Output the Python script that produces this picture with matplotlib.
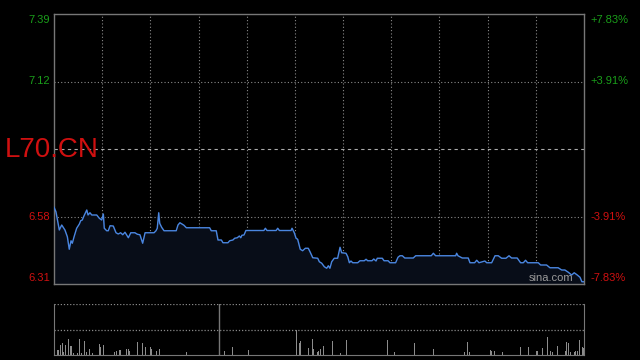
import matplotlib.pyplot as plt

# intraday minutes from open (session of 330 min) and price
minutes = [0, 1.2, 3.3, 4.8, 6.8, 8.3, 9.5, 10.6, 11.4, 12.5, 14.1, 15.8, 16.6, 17.6,
           18.7, 20.4, 21.2, 22.4, 23.5, 26.6, 28.2, 29.7, 30.7, 31.3, 32.8, 33.8,
           34.9, 36.9, 38.6, 40.0, 41.5, 42.8, 44.2, 46.3, 47.8, 50.4, 51.9, 53.5,
           55.2, 56.7, 59.8, 62.3, 63.5, 64.3, 65.2, 65.8, 67.0, 68.5, 76.1, 77.2,
           78.4, 79.7, 80.9, 82.4, 96.9, 97.9, 101.0, 102.1, 104.2, 105.2, 108.3,
           109.4, 111.4, 112.5, 114.1, 115.4, 116.3, 117.0, 118.3, 119.5, 130.7,
           131.6, 132.6, 138.3, 139.3, 140.3, 147.6, 148.2, 149.6, 150.7, 151.7,
           153.3, 154.8, 156.5, 158.3, 159.4, 161.1, 164.2, 165.2, 166.7, 168.3,
           169.8, 170.8, 171.8, 172.9, 174.5, 176.6, 178.1, 179.1, 181.8, 182.9,
           183.9, 184.9, 186.0, 189.1, 190.5, 193.2, 194.3, 195.3, 198.0, 199.1,
           200.5, 201.3, 204.4, 205.5, 208.0, 209.2, 212.7, 214.2, 215.4, 216.9,
           218.4, 223.7, 225.2, 234.9, 236.2, 237.6, 250.1, 250.7, 251.5, 254.2,
           257.9, 259.0, 261.9, 263.2, 264.6, 268.3, 269.4, 272.5, 274.6, 276.6,
           278.7, 281.4, 283.3, 284.9, 288.4, 290.5, 292.2, 293.6, 294.9, 301.5,
           303.0, 306.7, 308.8, 313.9, 316.1, 318.1, 320.2, 322.3, 323.9, 325.8,
           327.5, 328.7, 330]
price = [6.617, 6.599, 6.526, 6.546, 6.526, 6.499, 6.449, 6.483, 6.473, 6.499, 6.533,
         6.550, 6.563, 6.566, 6.583, 6.606, 6.586, 6.595, 6.586, 6.586, 6.573, 6.566,
         6.590, 6.533, 6.523, 6.523, 6.543, 6.542, 6.515, 6.510, 6.515, 6.507, 6.517,
         6.495, 6.515, 6.515, 6.509, 6.507, 6.473, 6.515, 6.515, 6.515, 6.523, 6.533,
         6.595, 6.553, 6.537, 6.523, 6.523, 6.546, 6.555, 6.550, 6.545, 6.535, 6.535,
         6.523, 6.523, 6.486, 6.486, 6.475, 6.475, 6.483, 6.486, 6.493, 6.495, 6.502,
         6.495, 6.505, 6.506, 6.524, 6.524, 6.533, 6.524, 6.524, 6.533, 6.524, 6.524,
         6.533, 6.515, 6.493, 6.489, 6.449, 6.443, 6.453, 6.453, 6.439, 6.415, 6.413,
         6.399, 6.393, 6.379, 6.373, 6.383, 6.373, 6.399, 6.413, 6.413, 6.457, 6.435,
         6.433, 6.419, 6.395, 6.402, 6.395, 6.395, 6.403, 6.403, 6.409, 6.403, 6.403,
         6.410, 6.402, 6.413, 6.413, 6.403, 6.403, 6.395, 6.395, 6.417, 6.423, 6.423,
         6.414, 6.414, 6.423, 6.423, 6.433, 6.423, 6.423, 6.433, 6.423, 6.414, 6.414,
         6.395, 6.395, 6.405, 6.395, 6.402, 6.395, 6.395, 6.423, 6.423, 6.413, 6.413,
         6.423, 6.414, 6.414, 6.395, 6.395, 6.405, 6.395, 6.395, 6.386, 6.386, 6.375,
         6.375, 6.366, 6.366, 6.357, 6.346, 6.355, 6.346, 6.337, 6.319, 6.319]

vol_minutes = [0.6, 2.1, 3.1, 4.2, 5.2, 5.8, 7.3, 8.9, 10.0, 10.8, 12.0, 13.7, 14.8,
               15.8, 17.3, 18.9, 20.4, 22.0, 23.8, 28.2, 29.1, 30.7, 37.9, 38.9,
               40.6, 41.7, 45.3, 46.3, 47.3, 51.9, 54.9, 56.7, 59.9, 61.0, 63.9,
               65.6, 82.6, 105.9, 110.9, 112.7, 120.9, 150.7, 152.7, 153.3, 158.3,
               160.8, 161.4, 163.9, 164.9, 166.2, 167.7, 173.3, 178.1, 182.3,
               207.6, 212.0, 224.6, 236.3, 255.5, 257.4, 258.7, 271.5, 272.5, 274.0,
               275.2, 279.1, 290.6, 295.6, 300.2, 301.0, 304.1, 307.2, 309.0, 310.5,
               313.6, 318.4, 319.3, 320.5, 321.7, 323.8, 324.8, 326.1, 327.2, 329.1,
               329.7]
volume = [18, 5, 5, 10, 12, 3, 10, 16, 9, 9, 2, 2, 2, 16, 2, 14, 3, 6, 2, 11, 8, 10,
          3, 4, 5, 5, 6, 6, 4, 13, 12, 8, 8, 6, 4, 6, 3, 4, 8, 3, 5, 25, 12, 14, 7, 16,
          6, 3, 4, 6, 9, 14, 2, 15, 15, 3, 12, 6, 3, 13, 3, 5, 4, 4, 3, 3, 8, 8, 4, 4,
          7, 18, 4, 3, 9, 4, 13, 12, 3, 3, 4, 4, 15, 8, 7]

prev_close = 6.85
y_ticks = [7.39, 7.12, 6.58, 6.31]
pct_labels = ['+7.83%', '+3.91%', '-3.91%', '-7.83%']
ticker = 'L70.CN'

GREEN = '#1a9e1a'
RED = '#d01010'
FRAME = '#777777'
GRID = '#8a8a8a'

plt.rcParams['font.family'] = ['Liberation Sans', 'DejaVu Sans']
fig = plt.figure(figsize=(6.4, 3.6), dpi=100, facecolor='black')

ax = fig.add_axes([54 / 640, 76 / 360, 530 / 640, 270 / 360], facecolor='black')
ax.set_xlim(0, 330)
ax.set_ylim(6.31, 7.39)
for s in ax.spines.values():
    s.set_color(FRAME)
    s.set_linewidth(1)

for m in range(30, 330, 30):
    ax.axvline(m, color=GRID, lw=0.8, ls=(0, (1, 2)), zorder=1)
for v in [7.12, 6.58]:
    ax.axhline(v, color=GRID, lw=0.8, ls=(0, (1, 2)), zorder=1)
ax.axhline(prev_close, color='#aaaaaa', lw=0.8, ls=(0, (3, 3)), zorder=1)

ax.fill_between(minutes, price, 6.31, color='#080d18', zorder=2)
ax.plot(minutes, price, color='#4a86e0', lw=1.0, zorder=3)

ax.set_xticks([])
ax.set_yticks([])
for i, (v, p) in enumerate(zip(y_ticks, pct_labels)):
    c = GREEN if v > prev_close else RED
    va = 'top' if i == 0 else ('bottom' if i == len(y_ticks) - 1 else 'center')
    off = -0.005 if i == 0 else (0.005 if i == len(y_ticks) - 1 else 0)
    ax.text(-0.008, v + off, f'{v:.2f}', transform=ax.get_yaxis_transform(),
            ha='right', va=va, color=c, fontsize=8)
    ax.text(1.012, v + off, p, transform=ax.get_yaxis_transform(),
            ha='left', va=va, color=c, fontsize=8)

fig.text(5 / 640, 1 - 150 / 360, ticker, color=RED, fontsize=20, ha='left', va='center')
ax.text(0.98, 0.004, 'sina.com', transform=ax.transAxes, ha='right', va='bottom',
        color='#9a9a9a', fontsize=8)

# volume panel
vax = fig.add_axes([54 / 640, 5 / 360, 530 / 640, 51 / 360], facecolor='black')
vax.set_xlim(0, 330)
vax.set_ylim(0, 51)
vax.bar(vol_minutes, volume, width=0.6, color='#8c8c8c', zorder=2)
vax.set_xticks([])
vax.set_yticks([])
vax.spines['top'].set_visible(False)
for k in ['left', 'right', 'bottom']:
    vax.spines[k].set_color(FRAME)
vax.axhline(51, color=GRID, lw=0.9, ls=(0, (1, 1.5)))
vax.axhline(25.5, color=GRID, lw=0.9, ls=(0, (1, 1.5)))
vax.axvline(103, color=FRAME, lw=1)

fig.savefig('out.png', dpi=100, facecolor='black')
